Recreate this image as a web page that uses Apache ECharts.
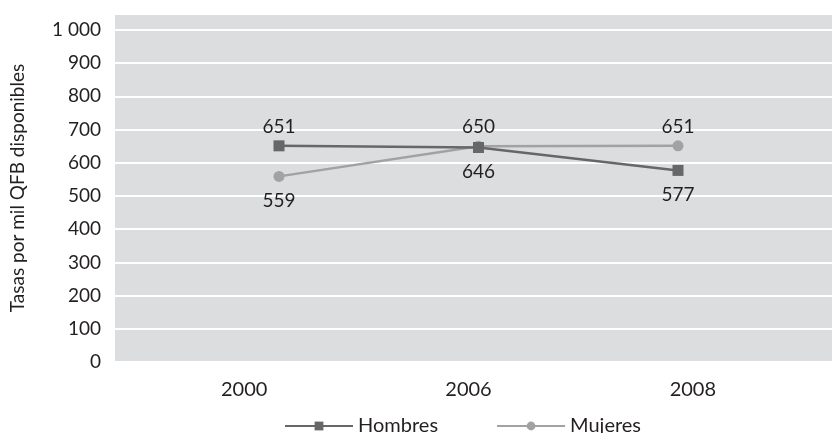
<!DOCTYPE html>
<html>
<head>
<meta charset="utf-8">
<script src="https://cdn.jsdelivr.net/npm/echarts@6/dist/echarts.min.js"></script>
<style>
  html, body { margin: 0; padding: 0; background: #fff; }
  #chart { width: 832px; height: 433px; }
</style>
</head>
<body>
<div id="chart"></div>
<script>
// datos
var years = ['2000', '2006', '2008'];
var hombres = [651, 646, 577];
var mujeres = [559, 650, 651];
var hombresLabelPos = ['top', 'bottom', 'bottom'];
var mujeresLabelPos = ['bottom', 'top', 'top'];

var textColor = '#231f20';
var font = 'Lato';
var yMax = 1048; // el fondo gris sube un poco por encima de 1 000

function withLabels(values, positions) {
  return values.map(function (v, i) {
    var top = positions[i] === 'top';
    return { value: v, label: { position: positions[i], distance: top ? 4 : 9 } };
  });
}

var gridBox = { top: 14, bottom: 71 };

var myChart = echarts.init(document.getElementById('chart'));
myChart.setOption({
  animation: false,
  textStyle: { fontFamily: font, color: textColor },
  grid: [
    // fondo gris + eje y
    { left: 115, right: 0, top: gridBox.top, bottom: gridBox.bottom,
      show: true, backgroundColor: '#dcdddf', borderWidth: 0 },
    // etiquetas de los años
    { left: 132, right: 27, top: gridBox.top, bottom: gridBox.bottom },
    // lineas
    { left: 279, right: 154, top: gridBox.top, bottom: gridBox.bottom }
  ],
  legend: {
    top: 411,
    left: 279,
    itemWidth: 68,
    itemHeight: 11,
    itemGap: 58,
    textStyle: { fontSize: 20, color: textColor, fontFamily: font },
    data: ['Hombres', 'Mujeres']
  },
  xAxis: [
    { gridIndex: 0, type: 'category', data: years, show: false },
    {
      gridIndex: 1,
      type: 'category',
      data: years,
      boundaryGap: true,
      axisLine: { show: false },
      axisTick: { show: false },
      axisLabel: { fontSize: 20, color: textColor, margin: 18, fontFamily: font }
    },
    { gridIndex: 2, type: 'category', data: years, boundaryGap: false, show: false }
  ],
  yAxis: [
    {
      gridIndex: 0,
      type: 'value',
      min: 0,
      max: yMax,
      interval: 100,
      name: 'Tasas por mil QFB disponibles',
      nameLocation: 'middle',
      nameGap: 88,
      nameTextStyle: { fontSize: 19, color: textColor, fontFamily: font },
      axisLine: { show: false },
      axisTick: { show: false },
      splitLine: { lineStyle: { color: '#ffffff', width: 2 } },
      axisLabel: {
        fontSize: 19, color: textColor, margin: 14, fontFamily: font,
        showMaxLabel: false,
        formatter: function (v) {
          return v >= 1000 ? String(v).replace(/\B(?=(\d{3})+(?!\d))/g, ' ') : String(v);
        }
      }
    },
    { gridIndex: 1, type: 'value', min: 0, max: yMax, show: false, splitLine: { show: false } },
    { gridIndex: 2, type: 'value', min: 0, max: yMax, show: false, splitLine: { show: false } }
  ],
  series: [
    {
      name: 'Mujeres',
      type: 'line',
      xAxisIndex: 2,
      yAxisIndex: 2,
      data: withLabels(mujeres, mujeresLabelPos),
      symbol: 'circle',
      symbolSize: 11,
      color: '#a2a2a4',
      lineStyle: { width: 2.5, color: '#a2a2a4' },
      itemStyle: { color: '#a2a2a4' },
      label: { show: true, fontSize: 19, color: textColor, fontFamily: font }
    },
    {
      name: 'Hombres',
      type: 'line',
      xAxisIndex: 2,
      yAxisIndex: 2,
      data: withLabels(hombres, hombresLabelPos),
      symbol: 'rect',
      symbolSize: 11,
      color: '#67676a',
      lineStyle: { width: 2.5, color: '#67676a' },
      itemStyle: { color: '#67676a' },
      label: { show: true, fontSize: 19, color: textColor, fontFamily: font }
    }
  ]
});
</script>
</body>
</html>
